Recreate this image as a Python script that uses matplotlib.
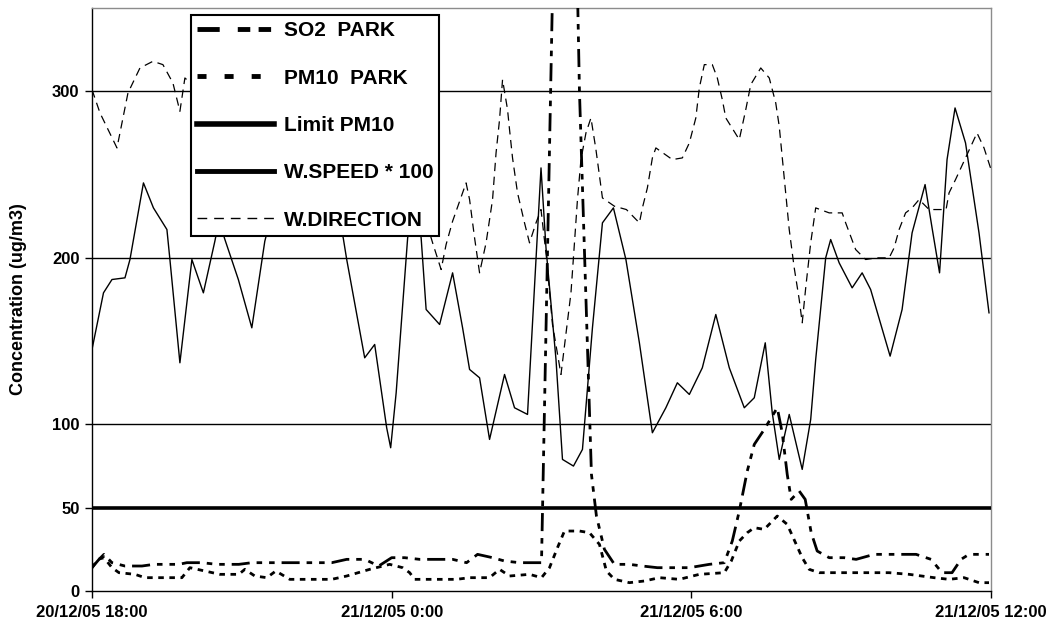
import matplotlib
matplotlib.use("Agg")
import matplotlib.pyplot as plt
from matplotlib.lines import Line2D

plt.rcParams['font.family'] = ['Liberation Sans', 'DejaVu Sans']
plt.rcParams['lines.scale_dashes'] = False

# ---------------- data (hours after 20/12/05 18:00) ----------------
speed_t = [0.0, 0.23, 0.40, 0.66, 0.76, 1.03, 1.23, 1.50, 1.56, 1.76, 2.00, 2.23, 2.46, 2.56, 2.65,
           2.93, 3.20, 3.46, 3.76, 4.16, 4.56, 4.86, 5.03, 5.10, 5.46, 5.66, 5.90, 5.98, 6.09, 6.32,
           6.46, 6.59, 6.69, 6.96, 7.22, 7.42, 7.56, 7.76, 7.96, 8.26, 8.46, 8.72, 8.99, 9.09, 9.29,
           9.42, 9.64, 9.82, 10.02, 10.22, 10.44, 10.69, 10.96, 11.22, 11.49, 11.72, 11.96, 12.22,
           12.49, 12.76, 13.06, 13.26, 13.48, 13.62, 13.76, 13.96, 14.22, 14.39, 14.49, 14.69, 14.79,
           14.96, 15.22, 15.42, 15.59, 15.98, 16.22, 16.42, 16.68, 16.82, 16.97, 17.12, 17.28, 17.49,
           17.76, 17.96]
speed_v = [145, 179, 187, 188, 199, 245, 230, 217, 199, 137, 199, 179, 210, 225, 212,
           187, 158, 210, 245, 228, 250, 232, 212, 199, 140, 148, 98, 86, 119, 212,
           235, 212, 169, 160, 191, 158, 133, 128, 91, 130, 110, 106, 254, 206, 139,
           79, 75, 85, 158, 221, 230, 199, 149, 95, 110, 125, 118, 134,
           166, 134, 110, 116, 149, 107, 79, 106, 73, 103, 139, 200, 211,
           197, 182, 191, 181, 141, 169, 215, 244, 218, 191, 259, 290, 269,
           215, 167]

dir_t = [0.0, 0.16, 0.50, 0.72, 0.96, 1.22, 1.42, 1.62, 1.76, 1.86, 2.16, 2.76, 3.36, 3.96, 4.56,
         5.16, 5.76, 6.36, 6.66, 6.82, 6.99, 7.09, 7.22, 7.49, 7.56, 7.66, 7.76, 7.89, 8.02, 8.09,
         8.16, 8.22, 8.32, 8.36, 8.42, 8.52, 8.66, 8.76, 8.89, 8.99, 9.10, 9.22, 9.39, 9.59, 9.66,
         9.72, 9.79, 9.89, 9.99, 10.09, 10.22, 10.46, 10.70, 10.96, 11.02, 11.12, 11.22, 11.29,
         11.62, 11.82, 11.96, 12.09, 12.16, 12.26, 12.42, 12.52, 12.62, 12.69, 12.96, 13.09, 13.19,
         13.39, 13.56, 13.69, 13.76, 13.86, 13.96, 14.06, 14.16, 14.22, 14.29, 14.39, 14.49, 14.76,
         15.02, 15.09, 15.29, 15.49, 15.70, 15.96, 16.06, 16.16, 16.29, 16.42, 16.56, 16.76, 17.10,
         17.16, 17.29, 17.49, 17.72, 17.86, 17.99]
dir_v = [301, 287, 266, 299, 314, 318, 316, 305, 288, 308, 300, 270, 290, 250, 275,
         240, 260, 235, 225, 209, 193, 208, 222, 245, 235, 212, 191, 209, 235, 263,
         283, 307, 289, 277, 260, 239, 221, 209, 221, 229, 200, 160, 130, 179, 209,
         235, 259, 275, 284, 265, 236, 231, 229, 221, 230, 242, 260, 266,
         259, 260, 269, 284, 302, 316, 316, 308, 295, 284, 271, 289, 304,
         314, 308, 293, 279, 248, 217, 194, 175, 161, 182, 209, 230, 227,
         227, 221, 205, 199, 200, 200, 206, 217, 227, 230, 235, 229, 229,
         239, 247, 260, 275, 266, 254]

so2_t = [0.0, 0.14, 0.24, 0.40, 0.66, 1.00, 1.24, 1.74, 1.90, 2.20, 2.50, 2.94, 3.20, 3.66, 3.96,
         4.24, 4.54, 4.80, 5.10, 5.46, 5.74, 6.00, 6.26, 6.56, 6.92, 7.22, 7.50, 7.72, 8.02, 8.26,
         8.56, 8.90, 9.00, 9.26, 9.50, 9.76, 10.00, 10.10, 10.26, 10.46, 10.76, 11.02, 11.32, 11.96,
         12.36, 12.66, 12.82, 12.96, 13.12, 13.26, 13.46, 13.72, 13.82, 13.92, 14.00, 14.16, 14.28,
         14.40, 14.52, 14.76, 15.06, 15.30, 15.66, 16.06, 16.50, 16.80, 17.02, 17.22, 17.40, 17.56,
         17.96]
so2_v = [14, 19, 22, 17, 15, 15, 16, 16, 17, 17, 16, 16, 17, 17, 17,
         17, 17, 17, 19, 19, 15, 20, 20, 19, 19, 19, 17, 22, 20, 18,
         17, 17, 17, 420, 700, 300, 70, 45, 25, 16, 16, 15, 14, 14,
         16, 17, 30, 48, 72, 88, 97, 110, 95, 70, 55, 60, 55,
         35, 24, 20, 20, 19, 22, 22, 22, 19, 11, 11, 19, 22,
         22]

pm10_t = [0.0, 0.12, 0.24, 0.40, 0.54, 0.86, 1.06, 1.52, 1.80, 1.96, 2.26, 2.56, 2.94, 3.06, 3.26,
          3.50, 3.68, 3.96, 4.46, 4.80, 5.10, 5.56, 5.96, 6.22, 6.36, 6.46, 6.96, 7.30, 7.56, 7.96,
          8.16, 8.36, 8.76, 9.00, 9.16, 9.32, 9.46, 9.76, 9.96, 10.16, 10.30, 10.46, 10.76, 11.06,
          11.36, 11.76, 12.16, 12.66, 12.80, 12.96, 13.12, 13.26, 13.46, 13.72, 13.92, 14.10, 14.22,
          14.36, 14.56, 15.06, 15.56, 15.96, 16.36, 16.86, 17.16, 17.46, 17.76, 17.96]
pm10_v = [14, 19, 20, 14, 11, 10, 8, 8, 8, 14, 12, 10, 10, 13, 9,
          8, 12, 7, 7, 7, 9, 13, 16, 14, 11, 7, 7, 7, 8, 8,
          13, 9, 10, 8, 14, 26, 36, 36, 35, 28, 12, 7, 5, 6,
          8, 7, 10, 11, 18, 30, 35, 38, 37, 45, 40, 28, 20,
          13, 11, 11, 11, 11, 10, 8, 7, 8, 5, 5]

limit_pm10 = 50
x_range = [0, 18]
x_ticks = [0, 6, 12, 18]
x_labels = ["20/12/05 18:00", "21/12/05 0:00", "21/12/05 6:00", "21/12/05 12:00"]
y_ticks = [0, 50, 100, 200, 300]
grid_levels = [100, 200, 300]
series_labels = ["SO2  PARK", "PM10  PARK", "Limit PM10", "W.SPEED * 100", "W.DIRECTION"]

# ---------------- figure ----------------
W, H = 1054, 628
fig = plt.figure(figsize=(W / 100, H / 100), dpi=100)
L, R, T, B = 92, 991, 8, 591
ax = fig.add_axes([L / W, 1 - B / H, (R - L) / W, (B - T) / H])

for g in grid_levels:
    ax.axhline(g, color='black', lw=1.0, zorder=1)

so2_dash = (0, (13, 5, 4, 5, 4, 5))
pm10_dash = (0, (4, 4))
dir_dash = (0, (6, 4))

ax.plot(dir_t, dir_v, color='black', lw=0.9, linestyle=dir_dash, zorder=3)
ax.plot(speed_t, speed_v, color='black', lw=1.0, zorder=3)
ax.plot(x_range, [limit_pm10, limit_pm10], color='black', lw=2.6, zorder=4)
ax.plot(pm10_t, pm10_v, color='black', lw=2.0, linestyle=pm10_dash, zorder=5)
ax.plot(so2_t, so2_v, color='black', lw=2.0, linestyle=so2_dash, zorder=5)

ax.set_xlim(*x_range)
ax.set_ylim(0, 350)
ax.set_xticks(x_ticks)
ax.set_xticklabels(x_labels, fontsize=12, fontweight='bold')
ax.set_yticks(y_ticks)
ax.set_yticklabels([str(v) for v in y_ticks], fontsize=12, fontweight='bold')
ax.tick_params(axis='both', direction='out', length=5, width=1, color='black', pad=4)
ax.tick_params(axis='x', pad=5)
ax.set_ylabel("Concentration (ug/m3)", fontsize=13, fontweight='bold', labelpad=18)

for s in ['left', 'bottom']:
    ax.spines[s].set_color('black')
    ax.spines[s].set_linewidth(1.0)
for s in ['top', 'right']:
    ax.spines[s].set_color('#8c8c8c')
    ax.spines[s].set_linewidth(1.0)

handles = [
    Line2D([], [], color='black', lw=3.5, linestyle=(0, (16, 13, 9, 6, 9, 6))),
    Line2D([], [], color='black', lw=3.5, linestyle=(0, (6.5, 13))),
    Line2D([], [], color='black', lw=4),
    Line2D([], [], color='black', lw=3.5),
    Line2D([], [], color='black', lw=1, linestyle=(0, (7, 5))),
]
leg = ax.legend(handles, series_labels, loc='upper left',
                bbox_to_anchor=(0.110, 0.988), borderaxespad=0,
                frameon=True, fancybox=False,
                edgecolor='black', framealpha=1, handlelength=3.7,
                labelspacing=1.36, borderpad=0.3, handletextpad=0.45,
                prop={'size': 15, 'weight': 'bold'})
leg.get_frame().set_linewidth(1.5)
leg.set_zorder(10)

fig.savefig("out.png", dpi=100)
